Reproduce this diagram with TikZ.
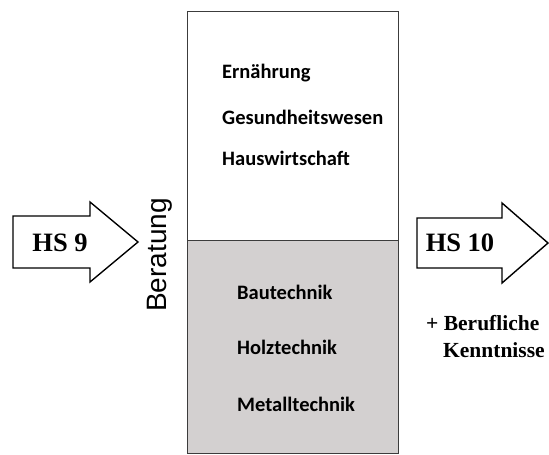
\documentclass[tikz,border=0pt]{standalone}
\usepackage{fontspec}
\setmainfont{Liberation Serif}
\newfontfamily\calibri{Carlito}
\newfontfamily\arial{Liberation Sans}
\definecolor{boxgray}{RGB}{211,208,208}
\definecolor{framegray}{RGB}{60,60,60}
\begin{document}
\begin{tikzpicture}[x=1pt,y=-1pt,
  bigarrow/.style={draw=black,line width=1.4pt,fill=white,line join=miter},
  subj/.style={font=\calibri\bfseries\fontsize{20.5}{24}\selectfont,anchor=west,inner sep=0pt},
  hs/.style={font=\bfseries\fontsize{26.5}{30}\selectfont,inner sep=0pt},
  kenn/.style={font=\bfseries\fontsize{21.5}{24}\selectfont,inner sep=0pt,anchor=west}]
\useasboundingbox (0,0) rectangle (549,455);
% column
\fill[boxgray] (187,240) rectangle (398,453);
\draw[framegray,line width=0.9pt] (187,11) rectangle (398,453);
\draw[framegray,line width=0.9pt] (187,240) -- (398,240);
% left arrow
\draw[bigarrow] (13,216) -- (90,216) -- (90,202) -- (138,242) -- (90,282) -- (90,268) -- (13,268) -- cycle;
\node[hs] (hs9) at (60,243) {HS 9};
% right arrow
\draw[bigarrow] (417,218) -- (502,218) -- (502,203) -- (548,243) -- (502,283) -- (502,268) -- (417,268) -- cycle;
\node[hs] (hs10) at (460,243) {HS 10};
% Beratung
\node[font=\arial\fontsize{28}{32}\selectfont,rotate=90,inner sep=0pt] (ber) at (160,255) {Beratung};
% subjects
\node[subj] (e) at (222,73) {Ernährung};
\node[subj] (g) at (222,117) {Gesundheitswesen};
\node[subj] (h) at (222,158) {Hauswirtschaft};
\node[subj] (b) at (237,292) {Bautechnik};
\node[subj] (ho) at (237,347) {Holztechnik};
\node[subj] (m) at (237,404) {Metalltechnik};
% extra
\node[kenn] (plus) at (426,323) {+ Berufliche};
\node[kenn] (k) at (443,350) {Kenntnisse};
\end{tikzpicture}
\end{document}
